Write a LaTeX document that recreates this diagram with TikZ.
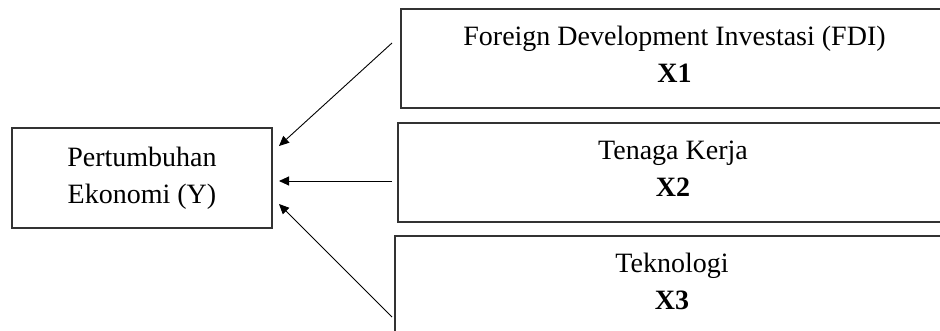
\documentclass[tikz,border=0pt]{standalone}
\usepackage{fontspec}
\setmainfont{Liberation Serif}
\usetikzlibrary{arrows.meta}
\tikzstyle{var}=[draw=black!80,line width=1.2pt,align=center,font=\fontsize{28}{37}\selectfont]
\tikzstyle{eff}=[line width=.9pt,-{Triangle[length=10pt,width=9pt]}]

\begin{document}
\begin{tikzpicture}[x=1pt,y=-1pt]
	\useasboundingbox (0,0) rectangle (940,331);
	\clip (0,0) rectangle (940,331);
	\node[var,minimum width=260pt,minimum height=100pt] (y) at (142,178) {Pertumbuhan\\Ekonomi (Y)};
	%
	\node[var,minimum width=547pt,minimum height=99pt,text depth=8pt] (x1) at (674.5,58.5) {Foreign Development Investasi (FDI)\\\textbf{X1}};
	\node[var,minimum width=550pt,minimum height=99pt,text depth=8pt] (x2) at (673,172.5) {Tenaga Kerja\\\textbf{X2}};
	\node[var,minimum width=554pt,minimum height=99pt,text depth=8pt] (x3) at (672,285.5) {Teknologi\\\textbf{X3}};
	%
	\coordinate (s1) at (392,43);
	\coordinate (s2) at (392,181);
	\coordinate (s3) at (392,317);
	\coordinate (t1) at (279,146);
	\coordinate (t2) at (279,181);
	\coordinate (t3) at (279,204);
	\draw[eff] (s1) -- (t1);
	\draw[eff] (s2) -- (t2);
	\draw[eff] (s3) -- (t3);
\end{tikzpicture}
\end{document}
